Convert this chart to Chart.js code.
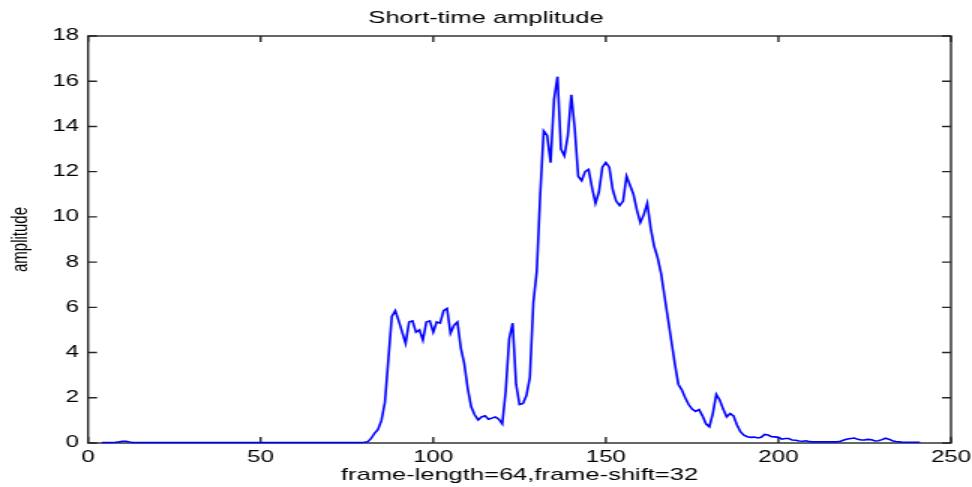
<!DOCTYPE html>
<html>
<head>
<meta charset="utf-8">
<script src="https://cdn.jsdelivr.net/npm/chart.js@4/dist/chart.umd.min.js"></script>
<style>
  html, body { margin: 0; padding: 0; background: #fff; overflow: hidden; }
  #wrap { width: 648px; height: 487px; transform: scaleX(1.5); transform-origin: 0 0; }
</style>
</head>
<body>
<div id="wrap"><canvas id="c" width="648" height="487"></canvas></div>
<script>
// ---- data ----
const chartTitle = 'Short-time amplitude';
const xTitle = 'frame-length=64,frame-shift=32';
const yTitle = 'amplitude';
const xTicks = [0, 50, 100, 150, 200, 250];
const yTicks = [0, 2, 4, 6, 8, 10, 12, 14, 16, 18];
const firstFrame = 4; // frame number of the first amplitude value
const amplitude = [
  0.02, 0.02, 0.02, 0.02, 0.03, 0.05,                               // 4-9
  0.08, 0.08, 0.04, 0.02, 0.02, 0.02, 0.02, 0.02, 0.02, 0.02,       // 10-19
  0.02, 0.02, 0.02, 0.02, 0.02, 0.02, 0.02, 0.02, 0.02, 0.02,       // 20-29
  0.02, 0.02, 0.02, 0.02, 0.02, 0.02, 0.02, 0.02, 0.02, 0.02,       // 30-39
  0.02, 0.02, 0.02, 0.02, 0.02, 0.02, 0.02, 0.02, 0.02, 0.02,       // 40-49
  0.02, 0.02, 0.02, 0.02, 0.02, 0.02, 0.02, 0.02, 0.02, 0.02,       // 50-59
  0.02, 0.02, 0.02, 0.02, 0.02, 0.02, 0.02, 0.02, 0.02, 0.02,       // 60-69
  0.02, 0.02, 0.02, 0.02, 0.02, 0.02, 0.02, 0.02, 0.02, 0.02,       // 70-79
  0.03, 0.05, 0.2, 0.43, 0.6, 1.0, 1.8, 3.7, 5.6, 5.85,             // 80-89
  5.4, 4.9, 4.4, 5.35, 5.4, 4.9, 5.0, 4.55, 5.35, 5.4,              // 90-99
  4.9, 5.35, 5.3, 5.85, 5.95, 4.85, 5.2, 5.35, 4.2, 3.5,            // 100-109
  2.4, 1.6, 1.25, 1.02, 1.15, 1.2, 1.05, 1.1, 1.15, 1.05,           // 110-119
  0.84, 2.3, 4.6, 5.3, 2.6, 1.7, 1.75, 2.1, 2.9, 6.2,               // 120-129
  7.6, 11.0, 13.8, 13.6, 12.4, 15.2, 16.2, 13.0, 12.7, 13.6,        // 130-139
  15.4, 13.9, 11.8, 11.6, 12.0, 12.1, 11.3, 10.6, 11.1, 12.2,       // 140-149
  12.4, 12.2, 11.2, 10.7, 10.5, 10.7, 11.8, 11.4, 11.0, 10.3,       // 150-159
  9.75, 10.1, 10.6, 9.5, 8.7, 8.2, 7.5, 6.5, 5.5, 4.5,              // 160-169
  3.5, 2.6, 2.35, 2.0, 1.7, 1.5, 1.4, 1.48, 1.2, 0.85,              // 170-179
  0.72, 1.3, 2.15, 1.9, 1.5, 1.15, 1.3, 1.2, 0.8, 0.5,              // 180-189
  0.35, 0.28, 0.25, 0.26, 0.22, 0.25, 0.38, 0.35, 0.28, 0.27,       // 190-199
  0.25, 0.17, 0.2, 0.2, 0.13, 0.12, 0.09, 0.08, 0.1, 0.06,          // 200-209
  0.05, 0.05, 0.05, 0.05, 0.05, 0.05, 0.05, 0.05, 0.08, 0.13,       // 210-219
  0.18, 0.2, 0.22, 0.16, 0.13, 0.14, 0.16, 0.14, 0.09, 0.1,         // 220-229
  0.15, 0.21, 0.17, 0.1, 0.07, 0.05, 0.03, 0.03, 0.03, 0.03,        // 230-239
  0.03, 0.03                                                        // 240-241
];

// ---- chart ----
const points = amplitude.map((v, i) => ({ x: firstFrame + i, y: v }));

const frameBox = {
  id: 'frameBox',
  beforeDatasetsDraw(chart) {
    const { ctx, chartArea: { left, right, top, bottom }, scales: { x, y } } = chart;
    ctx.save();
    ctx.strokeStyle = '#262626';
    ctx.lineWidth = 1.4;
    ctx.strokeRect(left, top, right - left, bottom - top);
    ctx.beginPath();
    x.ticks.forEach(t => {
      const px = x.getPixelForValue(t.value);
      ctx.moveTo(px, bottom); ctx.lineTo(px, bottom - 6);
      ctx.moveTo(px, top); ctx.lineTo(px, top + 6);
    });
    y.ticks.forEach(t => {
      const py = y.getPixelForValue(t.value);
      ctx.moveTo(left, py); ctx.lineTo(left + 6, py);
      ctx.moveTo(right, py); ctx.lineTo(right - 6, py);
    });
    ctx.stroke();
    ctx.restore();
  }
};

const FONT = "'Liberation Sans', Arial, sans-serif";

new Chart(document.getElementById('c'), {
  type: 'line',
  data: {
    datasets: [{
      data: points,
      borderColor: '#0000ff',
      borderWidth: 1.6,
      pointRadius: 0,
      tension: 0,
      fill: false,
      clip: false
    }]
  },
  options: {
    responsive: false,
    animation: false,
    devicePixelRatio: 1,
    layout: { padding: 0 },
    plugins: {
      legend: { display: false },
      tooltip: { enabled: false },
      title: {
        display: true,
        text: chartTitle,
        color: '#000',
        font: { family: FONT, size: 17, weight: 'normal', lineHeight: 1.2 },
        padding: { top: 8, bottom: 7.6 }
      }
    },
    scales: {
      x: {
        type: 'linear',
        min: 0, max: 250,
        afterBuildTicks: (s) => { s.ticks = xTicks.map(v => ({ value: v })); },
        afterFit: (s) => { s.height = 44; s.paddingRight = 14; s.paddingLeft = 0; },
        grid: { display: false, drawTicks: false },
        border: { display: false },
        ticks: { color: '#000', padding: 5, maxRotation: 0, font: { family: FONT, size: 16 } },
        title: {
          display: true, text: xTitle, color: '#000',
          font: { family: FONT, size: 17, lineHeight: 1.2 },
          padding: { top: 0, bottom: 1 }
        }
      },
      y: {
        min: 0, max: 18,
        afterBuildTicks: (s) => { s.ticks = yTicks.map(v => ({ value: v })); },
        afterFit: (s) => { s.width = 58.7; },
        grid: { display: false, drawTicks: false },
        border: { display: false },
        ticks: { color: '#000', padding: 6, font: { family: FONT, size: 16 } },
        title: {
          display: true, text: yTitle, color: '#000',
          font: { family: FONT, size: 15, lineHeight: 1.2 },
          padding: { top: 5, bottom: 0 }
        }
      }
    }
  },
  plugins: [frameBox]
});
</script>
</body>
</html>
